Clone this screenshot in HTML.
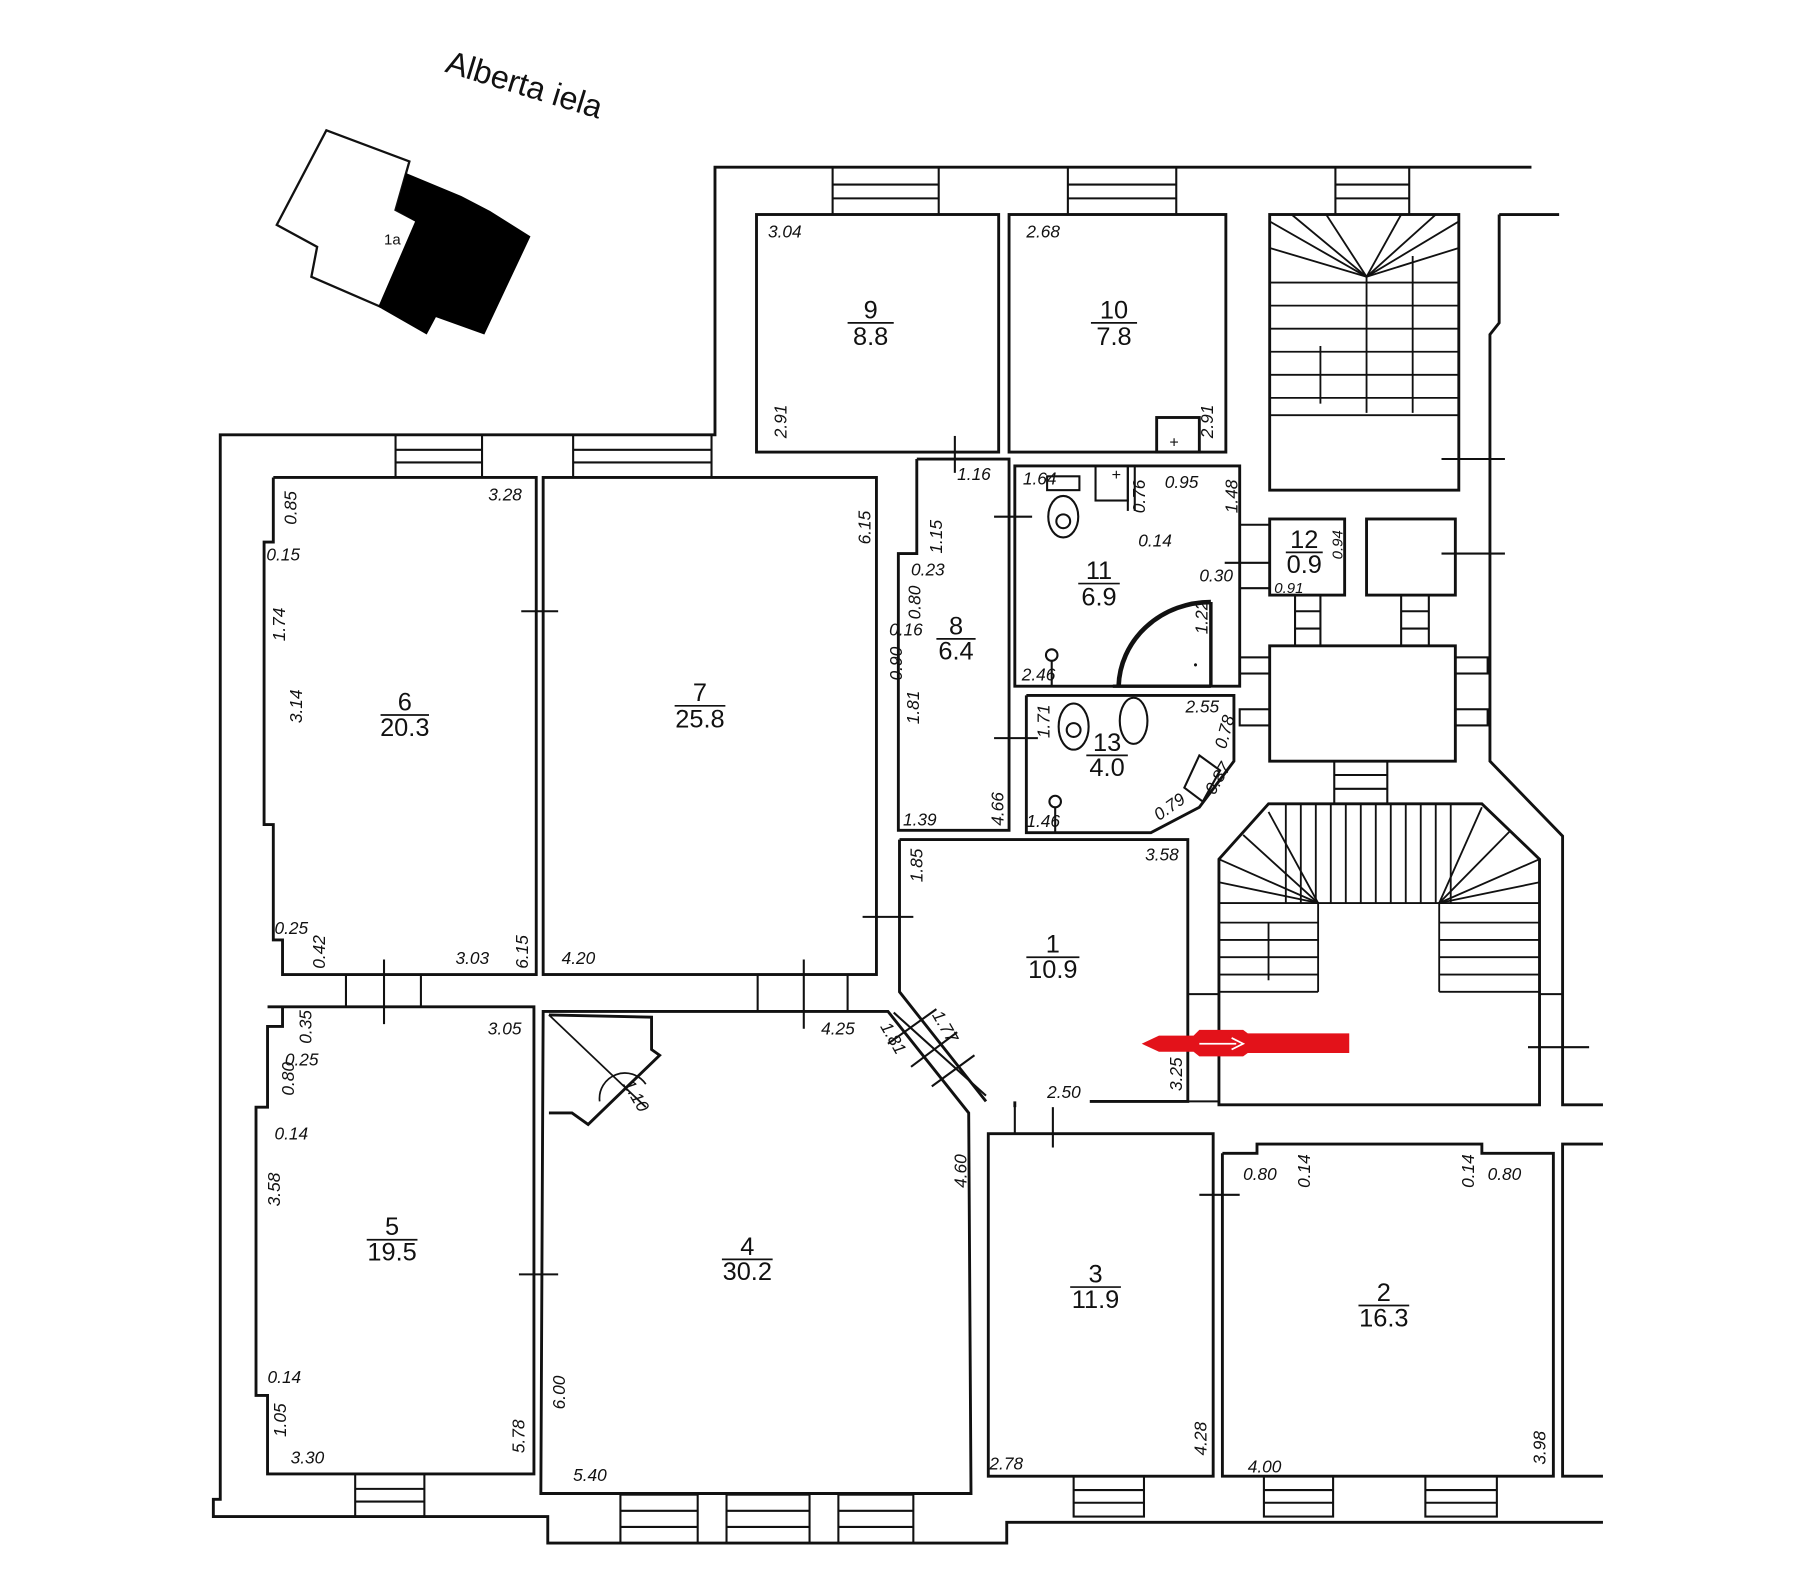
<!DOCTYPE html>
<html><head><meta charset="utf-8"><style>
html,body{margin:0;padding:0;background:#fff;}
svg{display:block;}
text{font-family:"Liberation Sans",sans-serif;fill:#111;}
.d{font-size:15px;font-style:italic;}
.n{font-size:22px;}
</style></head><body>
<svg width="1799" height="1580" viewBox="0 0 1560 1370" preserveAspectRatio="none" xmlns="http://www.w3.org/2000/svg">
<rect width="1560" height="1370" fill="#fff"/>
<text x="385" y="62" font-size="28" transform="rotate(17 385 62)">Alberta iela</text>
<polygon points="283,113 355,140 343,182 362,192 330,266 270,240 275,214 240,195" fill="#fff" stroke="#111" stroke-width="2"/>
<polygon points="352,150 400,170 425,183 460,205 420,290 378,275 370,290 328,266 360,192 343,182" fill="#000"/>
<text x="333" y="212" font-size="13">1a</text>

<g fill="none" stroke="#111" stroke-width="2.5">
<polyline points="1328,145 620,145 620,377 191,377 191,1300 185,1300 185,1315 475,1315 475,1338 873,1338 873,1320 1390,1320"/>
<line x1="1300" y1="186" x2="1352" y2="186"/>
<polyline points="1300,186 1300,280 1292,290 1292,660 1355,725 1355,958 1390,958"/>
<rect x="656" y="186" width="210" height="206"/>
<rect x="875" y="186" width="188" height="206"/>
<rect x="1003" y="362" width="37" height="30"/>
<rect x="1101" y="186" width="164" height="239"/>
<polyline points="237,414 465,414 465,845 245,845 245,815 237,815 237,715 229,715 229,470 237,470 237,414"/>
<rect x="471" y="414" width="289" height="431"/>
<polyline points="795,398 875,398 875,720 779,720 779,480 795,480 795,398"/>
<rect x="880" y="404" width="195" height="191"/>
<polyline points="890,603 1070,603 1070,660 1040,700 998,722 890,722 890,603"/>
<rect x="1101" y="450" width="65" height="66"/>
<rect x="1185" y="450" width="77" height="66"/>
<rect x="1101" y="560" width="161" height="100"/>
<polyline points="780,728 1030,728 1030,955 945,955"/>
<polyline points="880,955 880,960"/>
<polyline points="780,728 780,860 855,955"/>
<polygon points="1100,697 1285,697 1335,745 1335,958 1057,958 1057,745"/>
<polyline points="232,873 463,873 463,1278 232,1278 232,1210 222,1210 222,960 232,960 232,890 245,890 245,873"/>
<polygon points="471,877 770,877 840,965 842,1295 469,1295"/>
<polyline points="476,880 565,882 565,910 572,915 510,975 496,965 476,965"/>
<rect x="857" y="983" width="195" height="297"/>
<polyline points="1060,1000 1090,1000 1090,992 1285,992 1285,1000 1347,1000 1347,1280 1060,1280 1060,1000"/>
<polyline points="1390,992 1355,992 1355,1280 1390,1280"/>
<g stroke-width="1.8">
<rect x="722" y="145" width="92" height="41"/><line x1="722" y1="160" x2="814" y2="160"/><line x1="722" y1="172" x2="814" y2="172"/>
<rect x="926" y="145" width="94" height="41"/><line x1="926" y1="160" x2="1020" y2="160"/><line x1="926" y1="172" x2="1020" y2="172"/>
<rect x="1158" y="145" width="64" height="41"/><line x1="1158" y1="160" x2="1222" y2="160"/><line x1="1158" y1="172" x2="1222" y2="172"/>
<rect x="343" y="377" width="75" height="37"/><line x1="343" y1="390" x2="418" y2="390"/><line x1="343" y1="401" x2="418" y2="401"/>
<rect x="497" y="377" width="120" height="37"/><line x1="497" y1="390" x2="617" y2="390"/><line x1="497" y1="401" x2="617" y2="401"/>
<rect x="308" y="1278" width="60" height="37"/><line x1="308" y1="1291" x2="368" y2="1291"/><line x1="308" y1="1302" x2="368" y2="1302"/>
<rect x="538" y="1296" width="67" height="42"/><line x1="538" y1="1310" x2="605" y2="1310"/><line x1="538" y1="1324" x2="605" y2="1324"/>
<rect x="630" y="1296" width="72" height="42"/><line x1="630" y1="1310" x2="702" y2="1310"/><line x1="630" y1="1324" x2="702" y2="1324"/>
<rect x="727" y="1296" width="65" height="42"/><line x1="727" y1="1310" x2="792" y2="1310"/><line x1="727" y1="1324" x2="792" y2="1324"/>
<rect x="931" y="1280" width="61" height="35"/><line x1="931" y1="1292" x2="992" y2="1292"/><line x1="931" y1="1303" x2="992" y2="1303"/>
<rect x="1096" y="1280" width="60" height="35"/><line x1="1096" y1="1292" x2="1156" y2="1292"/><line x1="1096" y1="1303" x2="1156" y2="1303"/>
<rect x="1236" y="1280" width="62" height="35"/><line x1="1236" y1="1292" x2="1298" y2="1292"/><line x1="1236" y1="1303" x2="1298" y2="1303"/>
<line x1="300" y1="845" x2="300" y2="873"/><line x1="365" y1="845" x2="365" y2="873"/><line x1="333" y1="832" x2="333" y2="888"/>
<line x1="657" y1="845" x2="657" y2="877"/><line x1="735" y1="845" x2="735" y2="877"/><line x1="697" y1="832" x2="697" y2="892"/>
<line x1="452" y1="530" x2="484" y2="530"/><line x1="450" y1="1105" x2="484" y2="1105"/>
<line x1="748" y1="795" x2="792" y2="795"/><line x1="828" y1="378" x2="828" y2="410"/>
<line x1="862" y1="448" x2="895" y2="448"/><line x1="862" y1="640" x2="900" y2="640"/>
<line x1="913" y1="960" x2="913" y2="995"/><line x1="880" y1="958" x2="880" y2="983"/>
<line x1="1040" y1="1036" x2="1075" y2="1036"/><line x1="1325" y1="908" x2="1378" y2="908"/>
<line x1="1250" y1="398" x2="1305" y2="398"/><line x1="1250" y1="480" x2="1305" y2="480"/>
<line x1="1062" y1="488" x2="1101" y2="488"/>
<line x1="1075" y1="455" x2="1101" y2="455"/><line x1="1075" y1="510" x2="1101" y2="510"/>
<line x1="775" y1="878" x2="855" y2="950"/><line x1="770" y1="905" x2="812" y2="875"/><line x1="790" y1="925" x2="830" y2="895"/><line x1="808" y1="942" x2="845" y2="915"/>
<rect x="1123" y="516" width="22" height="44"/><line x1="1123" y1="530" x2="1145" y2="530"/><line x1="1123" y1="545" x2="1145" y2="545"/>
<rect x="1215" y="516" width="24" height="44"/><line x1="1215" y1="530" x2="1239" y2="530"/><line x1="1215" y1="545" x2="1239" y2="545"/>
<rect x="1075" y="570" width="26" height="14"/><rect x="1075" y="615" width="26" height="14"/>
<rect x="1262" y="570" width="28" height="14"/><rect x="1262" y="615" width="28" height="14"/>
<rect x="1157" y="660" width="46" height="37"/><line x1="1157" y1="672" x2="1203" y2="672"/><line x1="1157" y1="684" x2="1203" y2="684"/>
<line x1="1030" y1="862" x2="1057" y2="862"/><line x1="1030" y1="955" x2="1057" y2="955"/>
<line x1="1335" y1="862" x2="1355" y2="862"/>
</g>
<g stroke-width="1.6">
<line x1="1185" y1="240" x2="1185" y2="358"/>
<line x1="1101" y1="192" x2="1185" y2="240"/><line x1="1265" y1="192" x2="1185" y2="240"/>
<line x1="1120" y1="186" x2="1185" y2="240"/><line x1="1150" y1="186" x2="1185" y2="240"/><line x1="1215" y1="186" x2="1185" y2="240"/><line x1="1245" y1="186" x2="1185" y2="240"/>
<line x1="1101" y1="215" x2="1185" y2="240"/><line x1="1265" y1="215" x2="1185" y2="240"/>
<line x1="1101" y1="245" x2="1265" y2="245"/><line x1="1101" y1="265" x2="1265" y2="265"/><line x1="1101" y1="285" x2="1265" y2="285"/><line x1="1101" y1="305" x2="1265" y2="305"/><line x1="1101" y1="325" x2="1265" y2="325"/><line x1="1101" y1="345" x2="1265" y2="345"/><line x1="1101" y1="360" x2="1265" y2="360"/>
<line x1="1225" y1="222" x2="1225" y2="358"/>
<line x1="1145" y1="300" x2="1145" y2="350"/>
</g>
<g stroke-width="1.6">
<polyline points="1057,860 1057,783 1143,783 1143,860"/><polyline points="1248,860 1248,783 1335,783"/>
<line x1="1143" y1="783" x2="1248" y2="783"/>
<line x1="1115" y1="697" x2="1115" y2="783"/><line x1="1128" y1="697" x2="1128" y2="783"/><line x1="1141" y1="697" x2="1141" y2="783"/><line x1="1154" y1="697" x2="1154" y2="783"/><line x1="1167" y1="697" x2="1167" y2="783"/><line x1="1180" y1="697" x2="1180" y2="783"/><line x1="1193" y1="697" x2="1193" y2="783"/><line x1="1206" y1="697" x2="1206" y2="783"/><line x1="1219" y1="697" x2="1219" y2="783"/><line x1="1232" y1="697" x2="1232" y2="783"/><line x1="1245" y1="697" x2="1245" y2="783"/><line x1="1258" y1="697" x2="1258" y2="783"/>
<line x1="1057" y1="745" x2="1143" y2="783"/><line x1="1078" y1="724" x2="1143" y2="783"/><line x1="1100" y1="704" x2="1143" y2="783"/><line x1="1057" y1="765" x2="1143" y2="783"/>
<line x1="1335" y1="745" x2="1248" y2="783"/><line x1="1310" y1="720" x2="1248" y2="783"/><line x1="1285" y1="700" x2="1248" y2="783"/><line x1="1335" y1="765" x2="1248" y2="783"/>
<line x1="1057" y1="800" x2="1143" y2="800"/><line x1="1057" y1="815" x2="1143" y2="815"/><line x1="1057" y1="830" x2="1143" y2="830"/><line x1="1057" y1="845" x2="1143" y2="845"/><line x1="1057" y1="860" x2="1143" y2="860"/>
<line x1="1248" y1="800" x2="1335" y2="800"/><line x1="1248" y1="815" x2="1335" y2="815"/><line x1="1248" y1="830" x2="1335" y2="830"/><line x1="1248" y1="845" x2="1335" y2="845"/><line x1="1248" y1="860" x2="1335" y2="860"/>
<line x1="1100" y1="800" x2="1100" y2="850"/>
</g>
<g stroke-width="1.8">
<rect x="908" y="413" width="28" height="12"/><ellipse cx="922" cy="448" rx="13" ry="18"/><circle cx="922" cy="452" r="6"/>
<rect x="950" y="404" width="28" height="30"/><line x1="978" y1="404" x2="978" y2="443"/><line x1="984" y1="404" x2="984" y2="443"/>
<ellipse cx="931" cy="630" rx="13" ry="20"/><circle cx="931" cy="633" r="6"/>
<ellipse cx="983" cy="625" rx="12" ry="20"/>
<circle cx="912" cy="568" r="5"/><line x1="912" y1="573" x2="912" y2="595"/>
<circle cx="915" cy="695" r="5"/><line x1="915" y1="700" x2="915" y2="722"/>
<polygon points="1040,655 1058,668 1043,695 1027,683"/>
</g>
<path d="M1050,522 A80,75 0 0 0 970,595" stroke-width="4"/>
<line x1="1050" y1="522" x2="1050" y2="595" stroke-width="3"/>
<line x1="965" y1="595" x2="1050" y2="595" stroke-width="3"/>
<path d="M520,955 A22,22 0 0 1 560,940" stroke-width="1.5"/>
<line x1="476" y1="880" x2="560" y2="960" stroke-width="1.5"/>
</g>
<text x="1035" y="580" font-size="10">•</text>
<text x="964" y="416" font-size="14">+</text><text x="1014" y="388" font-size="14">+</text>

<path d="M990,905 L1005,898 L1035,898 L1040,893 L1078,893 L1082,896 L1170,896 L1170,913 L1082,913 L1078,916 L1040,916 L1035,912 L1005,912 Z" fill="#e3121a"/>
<path d="M1040,905 L1072,905 M1068,900 L1078,905 L1068,910" stroke="#fff" stroke-width="1.5" fill="none"/>

<g class="n" text-anchor="middle">
<text x="755" y="276">9</text><text x="755" y="299">8.8</text><line x1="735" y1="280" x2="775" y2="280" stroke="#111" stroke-width="1.5"/>
<text x="966" y="276">10</text><text x="966" y="299">7.8</text><line x1="946" y1="280" x2="986" y2="280" stroke="#111" stroke-width="1.5"/>
<text x="351" y="616">6</text><text x="351" y="638">20.3</text><line x1="330" y1="620" x2="372" y2="620" stroke="#111" stroke-width="1.5"/>
<text x="607" y="608">7</text><text x="607" y="631">25.8</text><line x1="585" y1="612" x2="629" y2="612" stroke="#111" stroke-width="1.5"/>
<text x="829" y="550">8</text><text x="829" y="572">6.4</text><line x1="812" y1="554" x2="846" y2="554" stroke="#111" stroke-width="1.5"/>
<text x="953" y="502">11</text><text x="953" y="525">6.9</text><line x1="935" y1="506" x2="971" y2="506" stroke="#111" stroke-width="1.5"/>
<text x="1131" y="475">12</text><text x="1131" y="497">0.9</text><line x1="1115" y1="479" x2="1147" y2="479" stroke="#111" stroke-width="1.5"/>
<text x="960" y="651">13</text><text x="960" y="673">4.0</text><line x1="942" y1="655" x2="978" y2="655" stroke="#111" stroke-width="1.5"/>
<text x="913" y="826">1</text><text x="913" y="848">10.9</text><line x1="890" y1="830" x2="936" y2="830" stroke="#111" stroke-width="1.5"/>
<text x="340" y="1071">5</text><text x="340" y="1093">19.5</text><line x1="318" y1="1075" x2="362" y2="1075" stroke="#111" stroke-width="1.5"/>
<text x="648" y="1088">4</text><text x="648" y="1110">30.2</text><line x1="626" y1="1092" x2="670" y2="1092" stroke="#111" stroke-width="1.5"/>
<text x="950" y="1112">3</text><text x="950" y="1134">11.9</text><line x1="928" y1="1116" x2="972" y2="1116" stroke="#111" stroke-width="1.5"/>
<text x="1200" y="1128">2</text><text x="1200" y="1150">16.3</text><line x1="1178" y1="1132" x2="1222" y2="1132" stroke="#111" stroke-width="1.5"/>
</g>

<g class="d">
<text x="666" y="206">3.04</text><text x="890" y="206">2.68</text>
<text x="438" y="434" text-anchor="middle">3.28</text>
<text x="231" y="486">0.15</text>
<text x="830" y="416">1.16</text><text x="887" y="420">1.64</text><text x="1010" y="423">0.95</text>
<text x="987" y="474">0.14</text><text x="1040" y="504">0.30</text><text x="790" y="499">0.23</text><text x="771" y="551">0.16</text>
<text x="1105" y="514" font-size="13">0.91</text><text x="886" y="590">2.46</text><text x="1028" y="618">2.55</text>
<text x="993" y="746">3.58</text><text x="238" y="810">0.25</text><text x="395" y="836">3.03</text><text x="487" y="836">4.20</text>
<text x="712" y="897">4.25</text><text x="423" y="897">3.05</text><text x="247" y="924">0.25</text><text x="238" y="988">0.14</text>
<text x="232" y="1199">0.14</text><text x="252" y="1269">3.30</text><text x="497" y="1284">5.40</text>
<text x="908" y="952">2.50</text><text x="858" y="1274">2.78</text><text x="1082" y="1277">4.00</text>
<text x="1078" y="1023">0.80</text><text x="1290" y="1023">0.80</text>
<text x="783" y="716">1.39</text><text x="890" y="717">1.46</text>
</g>
<g class="d">
<text transform="translate(682,380) rotate(-90)">2.91</text>
<text transform="translate(1052,380) rotate(-90)">2.91</text>
<text transform="translate(257,455) rotate(-90)">0.85</text>
<text transform="translate(247,556) rotate(-90)">1.74</text>
<text transform="translate(262,627) rotate(-90)">3.14</text>
<text transform="translate(282,840) rotate(-90)">0.42</text>
<text transform="translate(458,840) rotate(-90)">6.15</text>
<text transform="translate(755,472) rotate(-90)">6.15</text>
<text transform="translate(817,480) rotate(-90)">1.15</text>
<text transform="translate(798,537) rotate(-90)">0.80</text>
<text transform="translate(782,590) rotate(-90)">0.90</text>
<text transform="translate(797,628) rotate(-90)">1.81</text>
<text transform="translate(870,716) rotate(-90)">4.66</text>
<text transform="translate(800,765) rotate(-90)">1.85</text>
<text transform="translate(993,445) rotate(-90)">0.76</text>
<text transform="translate(1073,445) rotate(-90)">1.48</text>
<text transform="translate(1047,550) rotate(-90)">1.22</text>
<text transform="translate(1164,485) rotate(-90)" font-size="13">0.94</text>
<text transform="translate(910,640) rotate(-90)">1.71</text>
<text transform="translate(1063,650) rotate(-75)">0.78</text>
<text transform="translate(1053,690) rotate(-60)">0.87</text>
<text transform="translate(1005,712) rotate(-35)">0.79</text>
<text transform="translate(270,905) rotate(-90)">0.35</text>
<text transform="translate(255,950) rotate(-90)">0.80</text>
<text transform="translate(243,1046) rotate(-90)">3.58</text>
<text transform="translate(248,1246) rotate(-90)">1.05</text>
<text transform="translate(455,1260) rotate(-90)">5.78</text>
<text transform="translate(490,1222) rotate(-90)">6.00</text>
<text transform="translate(838,1030) rotate(-90)">4.60</text>
<text transform="translate(1025,946) rotate(-90)">3.25</text>
<text transform="translate(1046,1262) rotate(-90)">4.28</text>
<text transform="translate(1340,1270) rotate(-90)">3.98</text>
<text transform="translate(1136,1030) rotate(-90)">0.14</text>
<text transform="translate(1278,1030) rotate(-90)">0.14</text>
<text transform="translate(540,940) rotate(60)">1.10</text>
<text transform="translate(808,880) rotate(60)">1.77</text>
<text transform="translate(763,890) rotate(60)">1.81</text>
</g>
</svg>
</body></html>
